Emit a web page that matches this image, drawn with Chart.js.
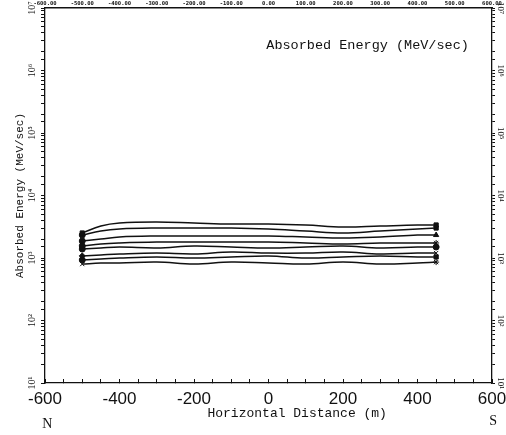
<!DOCTYPE html>
<html>
<head>
<meta charset="utf-8">
<script src="https://cdn.jsdelivr.net/npm/chart.js@4/dist/chart.umd.min.js"></script>
<style>
  html, body { margin: 0; padding: 0; background: #ffffff; }
  #wrap { width: 506px; height: 435px; }
</style>
</head>
<body>
<div id="wrap"><canvas id="c" width="506" height="435"></canvas></div>
<script>
// ---- data ----
const distances = [-500, -450, -400, -300, -200, -100, 0, 100, 200, 300, 400, 450];
const line1 = [2510, 3250, 3630, 3770, 3630, 3500, 3500, 3370, 3130, 3250, 3370, 3370];
const line2 = [2330, 2700, 2910, 3020, 3020, 3020, 2910, 2700, 2510, 2700, 2910, 3020];
const line3 = [1870, 2010, 2170, 2250, 2250, 2250, 2250, 2170, 2090, 2170, 2330, 2330];
const line4 = [1560, 1680, 1740, 1800, 1800, 1800, 1800, 1740, 1680, 1740, 1740, 1740];
const line5 = [1390, 1450, 1500, 1450, 1560, 1500, 1450, 1500, 1560, 1450, 1500, 1500];
const line6 = [1080, 1120, 1160, 1200, 1160, 1250, 1200, 1200, 1250, 1160, 1200, 1200];
const line7 = [930, 960, 1000, 1040, 1000, 1040, 1080, 1000, 1040, 1080, 1040, 1040];
const line8 = [800, 830, 830, 860, 800, 860, 830, 800, 860, 800, 830, 860];
const seriesList = [line1, line2, line3, line4, line5, line6, line7, line8];
const endStylesLeft = ['rect', 'circle', 'circle', 'circle', 'circle', 'rectRot', 'circle', 'crossRot'];
const endStylesRight = ['rect', 'rect', 'triangle', 'star', 'circle', 'crossRot', 'rect', 'star'];
const topTickValues = [-600, -500, -400, -300, -200, -100, 0, 100, 200, 300, 400, 500, 600];
const decadeLabels = {1: '10¹', 2: '10²', 3: '10³', 4: '10⁴', 5: '10⁵', 6: '10⁶', 7: '10⁷'};
const yTitle = 'Absorbed Energy (MeV/sec)';
const xTitle = 'Horizontal Distance (m)';
const innerLabel = 'Absorbed Energy (MeV/sec)';

const datasets = seriesList.map((vals, i) => ({
  data: vals.map((v, j) => ({x: distances[j], y: v})),
  borderColor: '#111',
  backgroundColor: '#111',
  borderWidth: 1.5,
  tension: 0.4,
  pointRadius: vals.map((v, j) => (j === 0 || j === vals.length - 1) ? 3 : 0),
  pointStyle: vals.map((v, j) => j === 0 ? endStylesLeft[i] : endStylesRight[i]),
  pointBorderWidth: 1,
  xAxisID: 'x',
  yAxisID: 'y'
}));

function decadeLabel(v) {
  const e = Math.log10(v);
  const r = Math.round(e);
  if (Math.abs(e - r) < 1e-9 && decadeLabels[r]) return decadeLabels[r];
  return '';
}

function fixBox(size, isH) {
  return function (s) {
    if (isH) s.height = size; else s.width = size;
    s.paddingLeft = 0; s.paddingRight = 0; s.paddingTop = 0; s.paddingBottom = 0;
  };
}

const textPlugin = {
  id: 'texts',
  afterDraw(chart) {
    const ctx = chart.ctx;
    const xs = chart.scales.x;
    ctx.save();
    ctx.fillStyle = '#111';
    ctx.textBaseline = 'middle';
    ctx.textAlign = 'center';
    ctx.font = '13px "Liberation Mono", monospace';
    ctx.fillText(xTitle, xs.getPixelForValue(77), 414);
    ctx.font = '13.5px "Liberation Mono", monospace';
    ctx.fillText(innerLabel, xs.getPixelForValue(266), 45);
    ctx.font = '14px "Liberation Serif", serif';
    ctx.fillText('N', xs.getPixelForValue(-594), 424);
    ctx.fillText('S', xs.getPixelForValue(603), 421);
    ctx.restore();
  }
};

new Chart(document.getElementById('c'), {
  type: 'line',
  data: { datasets },
  plugins: [textPlugin],
  options: {
    responsive: false,
    animation: false,
    layout: { padding: 0 },
    plugins: { legend: { display: false }, tooltip: { enabled: false } },
    scales: {
      x: {
        type: 'linear', position: 'bottom', min: -600, max: 600,
        afterFit: fixBox(52, true),
        ticks: {
          stepSize: 50, autoSkip: false, maxRotation: 0, minRotation: 0, padding: 10,
          color: '#111', font: { family: '"Liberation Sans", sans-serif', size: 17 },
          callback(v) { return (v % 200 === 0) ? String(v) : ''; }
        },
        grid: { drawOnChartArea: false, drawTicks: true, tickLength: -4, color: '#111' },
        border: { display: true, color: '#111', width: 1.3 }
      },
      xTop: {
        type: 'linear', position: 'top', min: -600, max: 600,
        afterFit: fixBox(8, true),
        afterBuildTicks(s) { s.ticks = topTickValues.map(v => ({value: v})); },
        ticks: {
          autoSkip: false, maxRotation: 0, minRotation: 0, padding: 1,
          color: '#111', font: { family: '"DejaVu Sans Mono", monospace', size: 5.5, weight: 'bold' },
          callback(v) { return Number(v).toFixed(2); }
        },
        grid: { drawOnChartArea: false, drawTicks: false },
        border: { display: true, color: '#111', width: 1.6 }
      },
      y: {
        type: 'logarithmic', position: 'left', min: 10, max: 1e7,
        afterFit: fixBox(45, false),
        ticks: {
          autoSkip: false, minRotation: 90, maxRotation: 90, crossAlign: 'center', padding: 2,
          color: '#111', font: { family: '"Liberation Serif", serif', size: 10 },
          callback: decadeLabel
        },
        grid: { drawOnChartArea: false, drawTicks: true, tickLength: 4, color: '#111' },
        border: { display: true, color: '#111', width: 1.3 },
        title: {
          display: true, text: yTitle, color: '#111',
          font: { family: '"Liberation Mono", monospace', size: 11 },
          padding: { top: 13, bottom: 0 }
        }
      },
      yRight: {
        type: 'logarithmic', position: 'right', min: 10, max: 1e7,
        afterFit: fixBox(14, false),
        ticks: {
          autoSkip: false, minRotation: -90, maxRotation: -90, crossAlign: 'center', padding: -1,
          color: '#111', font: { family: '"Liberation Serif", serif', size: 9 },
          callback: decadeLabel
        },
        grid: { drawOnChartArea: false, drawTicks: true, tickLength: 3, color: '#111' },
        border: { display: true, color: '#111', width: 1.3 }
      }
    }
  }
});
</script>
</body>
</html>
